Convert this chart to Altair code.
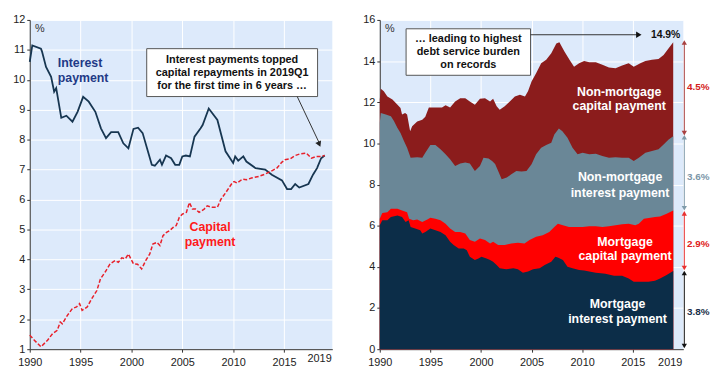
import altair as alt
import pandas as pd

FONT = "Liberation Sans"
BG = "#DDEAFB"

# ---------------- left panel data (% of income) ----------------
int_x = [1990.0, 1990.25, 1991.1, 1991.2, 1991.6, 1992.1, 1992.4, 1992.6, 1993.1, 1993.6, 1994.2, 1994.7,
         1995.25, 1995.8, 1996.45, 1997.0, 1997.5, 1998.0, 1998.7, 1999.2, 1999.7, 2000.2, 2000.65, 2001.1,
         2002.0, 2002.3, 2002.8, 2003.0, 2003.4, 2003.9, 2004.3, 2004.7, 2005.0, 2005.35, 2005.75, 2006.2,
         2006.8, 2007.0, 2007.6, 2008.45, 2009.25, 2010.0, 2010.2, 2010.5, 2011.0, 2011.3, 2012.2, 2013.15,
         2013.8, 2014.8, 2015.3, 2015.7, 2016.1, 2016.5, 2017.4, 2017.85, 2018.25, 2018.65, 2019.0]
int_v = [10.6, 11.15, 11.04, 10.95, 10.43, 10.1, 9.6, 9.72, 8.73, 8.8, 8.6, 8.93,
         9.43, 9.27, 8.93, 8.38, 8.05, 8.25, 8.25, 7.88, 7.71, 8.36, 8.4, 8.22,
         7.16, 7.13, 7.33, 7.16, 7.47, 7.38, 7.16, 7.16, 7.44, 7.47, 7.44, 8.1,
         8.38, 8.49, 9.04, 8.66, 7.61, 7.22, 7.44, 7.3, 7.44, 7.27, 7.05, 7.0,
         6.83, 6.64, 6.35, 6.35, 6.52, 6.4, 6.52, 6.83, 7.05, 7.38, 7.47]

cap_x = [1990.0, 1990.45, 1991.1, 1991.75, 1992.25, 1992.7, 1993.0, 1993.2, 1993.7, 1994.2, 1994.6, 1994.9,
         1995.15, 1995.65, 1996.1, 1996.6, 1996.95, 1997.4, 1997.9, 1998.4, 1998.7, 1999.05, 1999.4, 1999.7,
         2000.2, 2000.6, 2001.0, 2001.4, 2001.8, 2002.1, 2002.5, 2002.8, 2003.1, 2003.45, 2003.75, 2004.1,
         2004.4, 2004.7, 2005.0, 2005.4, 2005.7, 2006.0, 2006.3, 2006.65, 2007.15, 2007.45, 2007.9, 2008.45,
         2008.8, 2009.25, 2009.9, 2010.1, 2010.4, 2010.9, 2011.3, 2011.8, 2012.5, 2013.15, 2013.8, 2014.3,
         2014.8, 2015.1, 2015.6, 2016.1, 2016.55, 2017.2, 2017.7, 2018.2, 2018.65, 2019.0]
cap_v = [1.47, 1.3, 1.08, 1.3, 1.52, 1.63, 1.91, 1.85, 2.13, 2.36, 2.41, 2.52,
         2.3, 2.41, 2.69, 2.96, 3.35, 3.57, 3.85, 3.96, 3.9, 4.05, 4.02, 4.18,
         3.85, 3.84, 3.68, 3.96, 4.18, 4.51, 4.57, 4.46, 4.79, 4.9, 4.96, 5.07,
         5.13, 5.4, 5.51, 5.57, 5.9, 5.68, 5.68, 5.57, 5.68, 5.79, 5.74, 5.74,
         6.01, 6.22, 6.55, 6.6, 6.55, 6.68, 6.66, 6.72, 6.77, 6.85, 6.96, 7.05,
         7.25, 7.33, 7.36, 7.47, 7.52, 7.55, 7.38, 7.44, 7.44, 7.47]

# ---------------- right panel data: cumulative levels (%) ----------------
mi_x = [1990.0, 1990.25, 1990.75, 1991.1, 1991.75, 1992.2, 1992.55, 1992.85, 1993.05, 1993.5, 1994.0, 1994.2,
        1994.5, 1995.0, 1995.5, 1996.0, 1996.5, 1996.95, 1997.3, 1997.8, 1998.3, 1998.6, 1998.9, 1999.4,
        1999.75, 2000.05, 2000.55, 2000.9, 2001.2, 2001.55, 2001.85, 2002.5, 2003.2, 2003.65, 2004.15, 2004.65,
        2005.15, 2005.8, 2006.3, 2006.95, 2007.35, 2007.6, 2008.1, 2008.55, 2009.05, 2009.7, 2010.2, 2010.7,
        2011.35, 2011.85, 2012.3, 2013.15, 2013.95, 2014.6, 2015.1, 2015.9, 2016.55, 2017.2, 2017.7, 2018.35, 2019.0]
mi_v = [6.02, 6.26, 6.26, 6.42, 6.5, 6.42, 6.18, 6.26, 5.94, 5.86, 5.78, 5.62,
        5.7, 5.86, 5.78, 5.7, 5.54, 5.22, 5.06, 4.89, 4.89, 4.81, 4.49, 4.33,
        4.41, 4.49, 4.41, 4.33, 4.25, 4.09, 3.93, 3.88, 3.93, 3.88, 3.72, 3.77,
        3.88, 3.93, 4.09, 4.25, 4.49, 4.46, 4.33, 4.01, 3.93, 3.85, 3.82, 3.77,
        3.72, 3.69, 3.66, 3.57, 3.57, 3.44, 3.28, 3.28, 3.28, 3.33, 3.44, 3.6, 3.8]

mt_x = [1990.0, 1990.25, 1990.75, 1991.1, 1991.75, 1992.2, 1992.7, 1992.9, 1993.3, 1993.7, 1994.2, 1994.7,
        1995.0, 1995.5, 1996.0, 1996.5, 1996.95, 1997.45, 1997.95, 1998.45, 1998.9, 1999.4, 1999.9, 2000.4,
        2000.9, 2001.2, 2001.7, 2002.35, 2003.0, 2003.65, 2004.3, 2004.8, 2005.45, 2006.1, 2006.75, 2007.25,
        2007.6, 2008.1, 2008.7, 2009.4, 2010.05, 2010.7, 2011.35, 2012.0, 2012.65, 2013.3, 2013.95, 2014.6,
        2015.25, 2015.6, 2016.1, 2016.75, 2017.2, 2017.7, 2018.35, 2019.0]
mt_v = [6.34, 6.62, 6.66, 6.83, 6.83, 6.74, 6.66, 6.34, 6.26, 6.3, 6.18, 6.3,
        6.39, 6.34, 6.26, 6.1, 5.86, 5.7, 5.7, 5.62, 5.3, 5.22, 5.38, 5.3,
        5.14, 5.22, 5.06, 5.06, 5.14, 5.17, 5.14, 5.3, 5.46, 5.54, 5.7, 5.94,
        6.1, 6.02, 5.94, 5.94, 5.94, 5.97, 5.97, 5.94, 5.97, 6.02, 6.07, 6.1,
        6.02, 6.1, 6.34, 6.39, 6.42, 6.45, 6.58, 6.74]

ni_x = [1990.0, 1990.1, 1990.6, 1991.1, 1991.4, 1991.75, 1992.05, 1992.4, 1992.7, 1993.05, 1993.7, 1994.2,
        1994.5, 1995.0, 1995.5, 1996.0, 1996.5, 1996.95, 1997.45, 1997.95, 1998.45, 1998.9, 1999.4, 1999.9,
        2000.25, 2000.75, 2001.1, 2001.4, 2001.7, 2002.05, 2002.55, 2003.0, 2003.5, 2004.0, 2004.5, 2005.0,
        2005.45, 2005.95, 2006.45, 2006.95, 2007.25, 2007.7, 2008.05, 2008.55, 2009.05, 2009.55, 2010.05, 2010.7,
        2011.35, 2012.0, 2012.65, 2013.3, 2013.95, 2014.6, 2015.1, 2015.6, 2016.25, 2016.9, 2017.55, 2018.05,
        2018.55, 2019.0]
ni_v = [10.99, 11.48, 11.4, 11.32, 11.09, 10.75, 10.51, 10.1, 9.79, 9.3, 9.33, 9.3,
        9.55, 9.92, 9.92, 9.71, 9.47, 9.23, 8.9, 9.02, 9.07, 9.02, 8.66, 8.9,
        9.3, 9.27, 9.15, 9.0, 8.66, 8.26, 8.34, 8.5, 8.66, 8.63, 8.66, 8.99,
        9.47, 9.79, 9.92, 10.03, 10.43, 10.72, 10.59, 10.27, 9.79, 9.47, 9.55, 9.47,
        9.5, 9.39, 9.3, 9.33, 9.3, 9.3, 9.15, 9.3, 9.55, 9.63, 9.71, 9.95,
        10.19, 10.35]

tot_x = [1990.0, 1990.1, 1990.4, 1990.75, 1991.25, 1991.75, 1992.05, 1992.2, 1992.5, 1992.7, 1993.0, 1993.2,
         1993.7, 1994.2, 1994.5, 1994.85, 1995.5, 1996.15, 1996.5, 1996.95, 1997.45, 1997.95, 1998.45, 1998.9,
         1999.4, 1999.9, 2000.4, 2000.9, 2001.2, 2001.55, 2001.85, 2002.35, 2002.85, 2003.35, 2003.85, 2004.35,
         2004.65, 2005.0, 2005.45, 2005.95, 2006.45, 2006.95, 2007.45, 2007.75, 2008.25, 2008.75, 2009.2, 2009.7,
         2010.2, 2010.7, 2011.35, 2012.0, 2012.65, 2013.3, 2013.95, 2014.6, 2015.1, 2015.75, 2016.25, 2016.9,
         2017.55, 2018.05, 2018.55, 2019.0]
tot_v = [12.13, 12.66, 12.53, 12.28, 12.13, 11.88, 11.72, 11.4, 11.48, 11.4, 10.59, 10.83,
         11.07, 11.15, 11.3, 11.75, 11.75, 11.75, 11.85, 11.75, 12.04, 12.2, 12.2, 12.04,
         11.88, 12.17, 12.2, 12.04, 12.17, 11.8, 11.64, 11.8, 12.04, 12.28, 12.37, 12.28,
         12.53, 13.01, 13.41, 13.9, 14.06, 14.38, 14.86, 14.91, 14.46, 14.06, 13.73, 13.9,
         14.0, 13.94, 13.94, 13.82, 13.69, 13.65, 13.78, 13.9, 13.73, 13.9, 14.0, 14.06,
         14.1, 14.3, 14.62, 14.91]

# right-hand share brackets
br_label = ["4.5%", "3.6%", "2.9%", "3.8%"]
br_top = [14.9, 10.3, 6.6, 3.7]
br_bot = [10.5, 6.85, 3.95, 0.15]
br_mid = [12.75, 8.37, 5.13, 1.81]
br_line = ["#A84040", "#7F9BAA", "#E83030", "#111111"]
br_text = ["#D42020", "#7B96A8", "#E02020", "#1A2F4A"]

# ---------------- sizes ----------------
LW, LH = 306, 333
RW, RH = 307, 333
L_DOM = [1990, 2019.75]
R_DOM = [1990, 2020]
YEARS = [1990, 1995, 2000, 2005, 2010, 2015]


def xax(dom):
    return dict(scale=alt.Scale(domain=dom, nice=False, zero=False),
                axis=alt.Axis(values=YEARS, format="d", title=None, labelFlush=False, grid=True,
                              labelPadding=4))


def yax(dom, vals):
    return dict(scale=alt.Scale(domain=dom, nice=False, zero=False),
                axis=alt.Axis(values=vals, format="d", title=None, grid=True))


LX = xax(L_DOM)
LY = yax([1, 12], list(range(1, 13)))
RX = xax(R_DOM)
RY = yax([0, 16], list(range(0, 17, 2)))

# ---------------- left panel ----------------
df_int = pd.DataFrame({"x": int_x, "v": int_v})
df_cap = pd.DataFrame({"x": cap_x, "v": cap_v})

l_int = alt.Chart(df_int).mark_line(color="#173651", strokeWidth=1.8).encode(
    x=alt.X("x:Q", **LX), y=alt.Y("v:Q", **LY))
l_cap = alt.Chart(df_cap).mark_line(color="#E8202A", strokeWidth=1.5, strokeDash=[4, 2]).encode(
    x=alt.X("x:Q", **LX), y=alt.Y("v:Q", **LY))

lab_int = pd.DataFrame({"x": [1992.75, 1992.75], "v": [10.56, 10.06], "t": ["Interest", "payment"]})
lab_cap = pd.DataFrame({"x": [2007.73, 2007.73], "v": [5.08, 4.58], "t": ["Capital", "payment"]})
t_int = alt.Chart(lab_int).mark_text(font=FONT, fontSize=12.5, fontWeight="bold", color="#1F3A87",
                                     align="left", baseline="middle").encode(
    x=alt.X("x:Q", **LX), y=alt.Y("v:Q", **LY), text="t:N")
t_cap = alt.Chart(lab_cap).mark_text(font=FONT, fontSize=12.5, fontWeight="bold", color="#FF1A1A",
                                     align="center", baseline="middle").encode(
    x=alt.X("x:Q", **LX), y=alt.Y("v:Q", **LY), text="t:N")

lbox = pd.DataFrame({"x": [2001.5], "x2": [2018.3], "v": [11.04], "v2": [9.44]})
l_box = alt.Chart(lbox).mark_rect(fill="white", stroke="#555555", strokeWidth=1).encode(
    x=alt.X("x:Q", **LX), x2="x2:Q", y=alt.Y("v:Q", **LY), y2="v2:Q")
lbox_txt = pd.DataFrame({"x": [2009.9] * 3, "v": [10.66, 10.23, 9.80],
                         "t": ["Interest payments topped", "capital repayments in 2019Q1",
                               "for the first time in 6 years \u2026"]})
l_boxt = alt.Chart(lbox_txt).mark_text(font=FONT, fontSize=11, fontWeight="bold", color="#111111",
                                       align="center", baseline="middle").encode(
    x=alt.X("x:Q", **LX), y=alt.Y("v:Q", **LY), text="t:N")
larr = pd.DataFrame({"x": [2016.3], "x2": [2018.45], "v": [9.44], "v2": [7.9]})
l_arr = alt.Chart(larr).mark_rule(color="#333333", strokeWidth=1).encode(
    x=alt.X("x:Q", **LX), x2="x2:Q", y=alt.Y("v:Q", **LY), y2="v2:Q")
lhead = pd.DataFrame({"x": [2018.47], "v": [7.85]})
l_head = alt.Chart(lhead).mark_point(shape="triangle-up", angle=156, filled=True, size=40,
                                     color="#222222", opacity=1).encode(
    x=alt.X("x:Q", **LX), y=alt.Y("v:Q", **LY))
lpct = pd.DataFrame({"x": [1991.0], "v": [11.7], "t": ["%"]})
l_pct = alt.Chart(lpct).mark_text(font=FONT, fontSize=11, color="#333333", align="center",
                                  baseline="middle").encode(
    x=alt.X("x:Q", **LX), y=alt.Y("v:Q", **LY), text="t:N")
l2019 = pd.DataFrame({"x": [2018.5], "t": ["2019"]})
l_2019 = alt.Chart(l2019).mark_text(font=FONT, fontSize=11, color="#222222", align="center",
                                    baseline="middle").encode(
    x=alt.X("x:Q", **LX), y=alt.value(LH + 10), text="t:N")

left = alt.layer(l_int, l_cap, t_int, t_cap, l_box, l_boxt, l_arr, l_head, l_pct, l_2019).properties(
    width=LW, height=LH)

# ---------------- right panel ----------------
areas = [(tot_x, tot_v, "#8B1C1C"), (ni_x, ni_v, "#6A8797"), (mt_x, mt_v, "#FF0000"), (mi_x, mi_v, "#0C2D48")]
r_layers = []
for xs, vs, col in areas:
    d = pd.DataFrame({"x": xs, "v": vs})
    r_layers.append(alt.Chart(d).mark_area(color=col, opacity=1).encode(
        x=alt.X("x:Q", **RX), y=alt.Y("v:Q", **RY)))

seg_txt = pd.DataFrame({
    "x": [2013.66, 2013.66, 2013.75, 2013.75, 2014.24, 2014.24, 2013.5, 2013.5],
    "v": [12.51, 11.82, 8.35, 7.59, 5.2, 4.52, 2.17, 1.46],
    "t": ["Non-mortgage", "capital payment", "Non-mortgage", "interest payment",
          "Mortgage", "capital payment", "Mortgage", "interest payment"]})
r_segt = alt.Chart(seg_txt).mark_text(font=FONT, fontSize=12.5, fontWeight="bold", color="white",
                                      align="center", baseline="middle").encode(
    x=alt.X("x:Q", **RX), y=alt.Y("v:Q", **RY), text="t:N")

rbox = pd.DataFrame({"x": [1992.6], "x2": [2004.9], "v": [15.57], "v2": [13.31]})
r_box = alt.Chart(rbox).mark_rect(fill="white", stroke="#555555", strokeWidth=1).encode(
    x=alt.X("x:Q", **RX), x2="x2:Q", y=alt.Y("v:Q", **RY), y2="v2:Q")
rbox_txt = pd.DataFrame({"x": [1998.75] * 3, "v": [15.08, 14.44, 13.80],
                         "t": ["\u2026 leading to highest", "debt service burden", "on records"]})
r_boxt = alt.Chart(rbox_txt).mark_text(font=FONT, fontSize=11, fontWeight="bold", color="#111111",
                                       align="center", baseline="middle").encode(
    x=alt.X("x:Q", **RX), y=alt.Y("v:Q", **RY), text="t:N")
rarr = pd.DataFrame({"x": [2004.9], "x2": [2015.6], "v": [15.28], "v2": [15.28]})
r_arr = alt.Chart(rarr).mark_rule(color="#333333", strokeWidth=1).encode(
    x=alt.X("x:Q", **RX), x2="x2:Q", y=alt.Y("v:Q", **RY), y2="v2:Q")
rhead = pd.DataFrame({"x": [2015.6], "v": [15.28]})
r_head = alt.Chart(rhead).mark_point(shape="triangle-right", filled=True, size=40, color="#111111",
                                     opacity=1).encode(
    x=alt.X("x:Q", **RX), y=alt.Y("v:Q", **RY))
rtop = pd.DataFrame({"x": [2018.25], "v": [15.28], "t": ["14.9%"]})
r_top = alt.Chart(rtop).mark_text(font=FONT, fontSize=10.5, fontWeight="bold", color="#111111",
                                  align="center", baseline="middle").encode(
    x=alt.X("x:Q", **RX), y=alt.Y("v:Q", **RY), text="t:N")
rpct = pd.DataFrame({"x": [1991.0], "v": [15.55], "t": ["%"]})
r_pct = alt.Chart(rpct).mark_text(font=FONT, fontSize=11, color="#333333", align="center",
                                  baseline="middle").encode(
    x=alt.X("x:Q", **RX), y=alt.Y("v:Q", **RY), text="t:N")
r2019 = pd.DataFrame({"x": [2018.7], "t": ["2019"]})
r_2019 = alt.Chart(r2019).mark_text(font=FONT, fontSize=11, color="#222222", align="center",
                                    baseline="middle").encode(
    x=alt.X("x:Q", **RX), y=alt.value(RH + 14), text="t:N")

br = pd.DataFrame({"lab": br_label, "top": br_top, "bot": br_bot, "mid": br_mid,
                   "lc": br_line, "tc": br_text})
r_br = alt.Chart(br).mark_rule(strokeWidth=1).encode(
    x=alt.value(RW + 1), y=alt.Y("top:Q", **RY), y2="bot:Q",
    color=alt.Color("lc:N", scale=None))
r_up = alt.Chart(br).mark_point(shape="triangle-up", filled=True, size=28, opacity=1).encode(
    x=alt.value(RW + 1), y=alt.Y("top:Q", **RY), color=alt.Color("lc:N", scale=None))
r_dn = alt.Chart(br).mark_point(shape="triangle-down", filled=True, size=28, opacity=1).encode(
    x=alt.value(RW + 1), y=alt.Y("bot:Q", **RY), color=alt.Color("lc:N", scale=None))
r_brt = alt.Chart(br).mark_text(font=FONT, fontSize=10, fontWeight="bold", align="center",
                                baseline="middle").encode(
    x=alt.value(RW + 15), y=alt.Y("mid:Q", **RY), text="lab:N", color=alt.Color("tc:N", scale=None))

right = alt.layer(*r_layers, r_segt, r_box, r_boxt, r_arr, r_head, r_top, r_pct, r_2019,
                  r_br, r_up, r_dn, r_brt).properties(width=RW, height=RH)

chart = alt.hconcat(left, right, spacing=30).properties(
    padding={"left": 4, "top": 4, "right": 2, "bottom": 2}
).configure_view(fill=BG, strokeWidth=0).configure_axis(
    labelFont=FONT, labelFontSize=11, labelColor="#222222", domainColor="#333333",
    tickColor="#333333", tickSize=3, gridColor="#FFFFFF", gridWidth=1, domainWidth=1
)

chart.save("out.html", embed_options={"renderer": "svg", "actions": False})
